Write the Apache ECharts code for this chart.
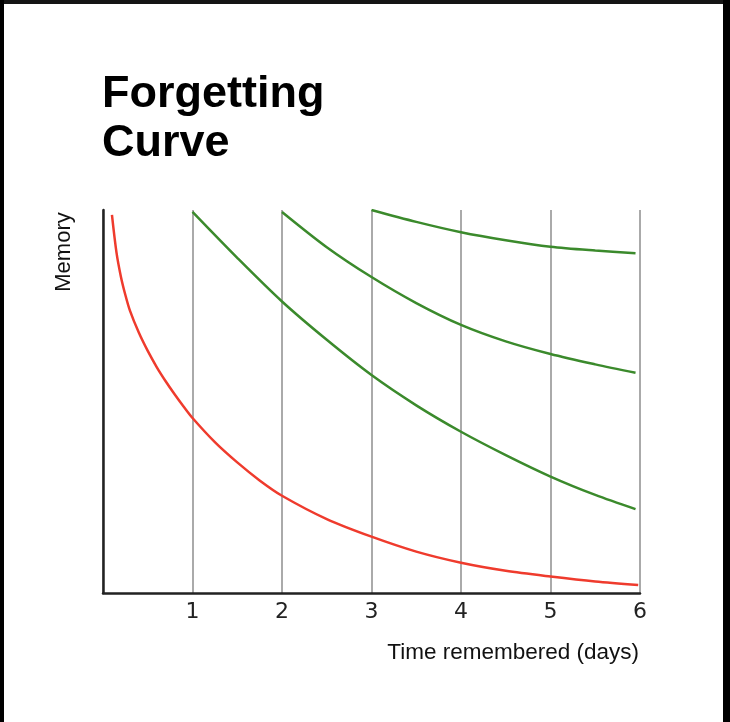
<!DOCTYPE html>
<html>
<head>
<meta charset="utf-8">
<script src="https://cdn.jsdelivr.net/npm/echarts@6/dist/echarts.min.js"></script>
<style>
  html, body { margin: 0; padding: 0; background: #fff; }
  #wrap { position: relative; width: 730px; height: 722px; overflow: hidden; }
  #chart { position: absolute; left: 0; top: 0; width: 730px; height: 722px; }
  .fr { position: absolute; z-index: 5; }
</style>
</head>
<body>
<div id="wrap">
  <div id="chart"></div>
  <div class="fr" style="left:0;top:0;width:730px;height:4px;background:#151515;"></div>
  <div class="fr" style="left:0;top:0;width:4px;height:722px;background:#000;"></div>
  <div class="fr" style="left:723px;top:0;width:7px;height:722px;background:#000;"></div>
</div>
<script>
// ---- data (days vs memory %) ----
var titleText = 'Forgetting\nCurve';
var xAxisTitle = 'Time remembered (days)';
var yAxisTitle = 'Memory';
var xTickLabels = ['', '1', '2', '3', '4', '5', '6'];

var redDays   = [0.1, 0.15, 0.2, 0.25, 0.3, 0.4, 0.5, 0.6, 0.7, 0.8, 0.9, 1, 1.25, 1.5, 1.75, 2, 2.5, 3, 3.5, 4, 4.5, 5, 5.5, 5.98];
var redMemory = [98.7, 89.0, 82.6, 77.8, 73.8, 68.0, 63.2, 59.0, 55.3, 51.9, 48.7, 45.7, 39.4, 34.1, 29.4, 25.4, 19.3, 14.7, 10.8, 7.9, 5.8, 4.3, 3.0, 2.1];

var review1Days   = [1, 1.5, 2, 2.5, 3, 3.5, 4, 4.5, 5, 5.5, 5.95];
var review1Memory = [99.5, 87.5, 76.1, 66.1, 56.9, 49.0, 42.1, 36.0, 30.4, 25.6, 21.9];

var review2Days   = [2, 2.5, 3, 3.5, 4, 4.5, 5, 5.5, 5.95];
var review2Memory = [99.5, 90.3, 82.5, 75.7, 70.0, 65.7, 62.4, 59.7, 57.5];

var review3Days   = [3, 3.5, 4, 4.5, 5, 5.5, 5.95];
var review3Memory = [100, 96.9, 94.2, 92.1, 90.4, 89.4, 88.7];

function pairs(xs, ys) { return xs.map(function (x, i) { return [x, ys[i]]; }); }

var RED = '#ef3b2d';
var GREEN = '#3b8a2c';

function lineSeries(name, xs, ys, color) {
  return {
    name: name, type: 'line', data: pairs(xs, ys),
    smooth: 0.3, showSymbol: false, symbol: 'none',
    lineStyle: { color: color, width: 2.5 },
    z: 5, silent: true
  };
}

var chart = echarts.init(document.getElementById('chart'), null, { renderer: 'canvas' });
chart.setOption({
  animation: false,
  backgroundColor: '#ffffff',
  title: [{
    text: titleText,
    left: 97, top: 65,
    textStyle: { fontFamily: 'Liberation Sans, Arial, sans-serif', fontWeight: 'bold', fontSize: 45, lineHeight: 49, color: '#000' }
  }, {
    text: xAxisTitle,
    right: 86, top: 636,
    textStyle: { fontFamily: 'Liberation Sans, Arial, sans-serif', fontWeight: 'normal', fontSize: 22.5, color: '#111' }
  }],
  graphic: [{
    type: 'text',
    x: 64, y: 252,
    rotation: Math.PI / 2,
    style: { text: yAxisTitle, fontFamily: 'Liberation Sans, Arial, sans-serif', fontSize: 22, fill: '#111', align: 'center', verticalAlign: 'middle' }
  }],
  grid: { left: 103, right: 90, top: 210, bottom: 129, containLabel: false },
  xAxis: {
    type: 'value', min: 0, max: 6, interval: 1,
    axisLine: { show: true, lineStyle: { color: '#222', width: 2.5 } },
    axisTick: { show: false },
    splitLine: { show: true, lineStyle: { color: '#aaaaaa', width: 2 } },
    axisLabel: {
      margin: 8,
      fontFamily: 'DejaVu Sans, sans-serif', fontSize: 22, color: '#222',
      formatter: function (v) { return xTickLabels[Math.round(v)] || ''; }
    }
  },
  yAxis: {
    type: 'value', min: 0, max: 100,
    axisLine: { show: true, lineStyle: { color: '#222', width: 2.5 } },
    axisTick: { show: false },
    axisLabel: { show: false },
    splitLine: { show: false }
  },
  series: [
    lineSeries('Forgetting', redDays, redMemory, RED),
    lineSeries('Review 1', review1Days, review1Memory, GREEN),
    lineSeries('Review 2', review2Days, review2Memory, GREEN),
    lineSeries('Review 3', review3Days, review3Memory, GREEN)
  ]
});
</script>
</body>
</html>
